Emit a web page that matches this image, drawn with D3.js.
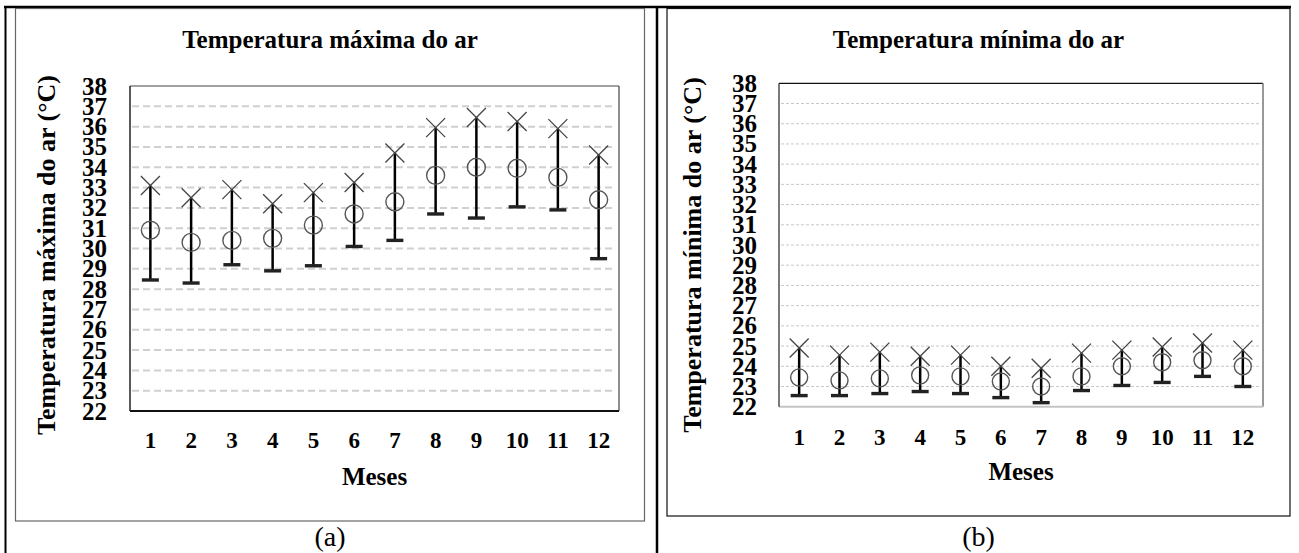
<!DOCTYPE html>
<html>
<head>
<meta charset="utf-8">
<script src="https://cdn.jsdelivr.net/npm/d3@7"></script>
<style>
  body { margin: 0; background: #fff; }
  svg { display: block; }
  text { font-family: "Liberation Serif", "Times New Roman", serif; }
</style>
</head>
<body>
<div id="chart"></div>
<script>
// months on the x axis
const months = ["1", "2", "3", "4", "5", "6", "7", "8", "9", "10", "11", "12"];
const yTicks = [22, 23, 24, 25, 26, 27, 28, 29, 30, 31, 32, 33, 34, 35, 36, 37, 38];

// (a) temperatura maxima: max (X), media (o), min (bar)
const tmaxTop = [33.1, 32.5, 32.9, 32.2, 32.75, 33.25, 34.7, 35.95, 36.45, 36.25, 35.9, 34.6];
const tmaxMid = [30.9, 30.3, 30.4, 30.5, 31.15, 31.7, 32.3, 33.6, 34.0, 33.95, 33.5, 32.4];
const tmaxLow = [28.45, 28.3, 29.2, 28.9, 29.15, 30.1, 30.4, 31.7, 31.5, 32.05, 31.9, 29.5];

// (b) temperatura minima
const tminTop = [24.9, 24.55, 24.7, 24.5, 24.55, 24.0, 23.9, 24.65, 24.8, 24.95, 25.15, 24.8];
const tminMid = [23.45, 23.3, 23.4, 23.55, 23.5, 23.25, 23.0, 23.5, 24.0, 24.2, 24.3, 24.0];
const tminLow = [22.55, 22.55, 22.65, 22.75, 22.65, 22.45, 22.2, 22.8, 23.05, 23.2, 23.5, 23.0];

const width = 1299, height = 553;

const svg = d3.select("#chart")
    .append("svg")
    .attr("width", width)
    .attr("height", height);

// table borders
svg.append("line").attr("x1", 4).attr("x2", 1291).attr("y1", 7).attr("y2", 7)
    .attr("stroke", "#000").attr("stroke-width", 2.5);
svg.append("line").attr("x1", 5.5).attr("x2", 5.5).attr("y1", 6).attr("y2", height)
    .attr("stroke", "#000").attr("stroke-width", 2);
svg.append("line").attr("x1", 657).attr("x2", 657).attr("y1", 6).attr("y2", height)
    .attr("stroke", "#000").attr("stroke-width", 2.5);

function drawPanel(cfg) {
    const p = cfg.plot;

    // outer chart frame
    svg.append("rect")
        .attr("x", cfg.frame[0]).attr("y", cfg.frame[1])
        .attr("width", cfg.frame[2] - cfg.frame[0])
        .attr("height", cfg.frame[3] - cfg.frame[1])
        .attr("fill", "none")
        .attr("stroke", cfg.frameColor)
        .attr("stroke-width", 1.2);

    const x = d3.scaleBand().domain(months).range([p.left, p.right]);
    const y = d3.scaleLinear().domain([22, 38]).range([p.bottom, p.top]);

    // gridlines
    svg.append("g")
        .selectAll("line")
        .data(yTicks.filter(d => d > 22 && d < 38))
        .enter()
        .append("line")
        .attr("x1", p.left + 2)
        .attr("x2", p.right - 3)
        .attr("y1", d => y(d))
        .attr("y2", d => y(d))
        .attr("stroke", cfg.gridColor)
        .attr("stroke-width", cfg.gridWidth)
        .attr("stroke-dasharray", cfg.gridDash);

    // plot area border
    const b = svg.append("g");
    b.append("line").attr("x1", p.left).attr("x2", p.right).attr("y1", p.top).attr("y2", p.top)
        .attr("stroke", cfg.border.top[0]).attr("stroke-width", cfg.border.top[1]);
    b.append("line").attr("x1", p.right).attr("x2", p.right).attr("y1", p.top).attr("y2", p.bottom)
        .attr("stroke", cfg.border.right[0]).attr("stroke-width", cfg.border.right[1]);
    b.append("line").attr("x1", p.left).attr("x2", p.right).attr("y1", p.bottom).attr("y2", p.bottom)
        .attr("stroke", cfg.border.bottom[0]).attr("stroke-width", cfg.border.bottom[1]);
    b.append("line").attr("x1", p.left).attr("x2", p.left).attr("y1", p.top).attr("y2", p.bottom)
        .attr("stroke", cfg.border.left[0]).attr("stroke-width", cfg.border.left[1]);

    // axes (labels only)
    const yAxis = svg.append("g")
        .attr("transform", `translate(${p.left},0)`)
        .call(d3.axisLeft(y).tickValues(yTicks).tickSize(0).tickPadding(cfg.yPad));
    yAxis.select(".domain").remove();
    yAxis.selectAll("text")
        .style("font-family", "'Liberation Serif', serif")
        .style("font-size", "25px")
        .style("font-weight", "bold")
        .attr("fill", "#000");

    const xAxis = svg.append("g")
        .attr("transform", `translate(0,${p.bottom})`)
        .call(d3.axisBottom(x).tickSize(0).tickPadding(cfg.xPad));
    xAxis.select(".domain").remove();
    xAxis.selectAll("text")
        .style("font-family", "'Liberation Serif', serif")
        .style("font-size", "23px")
        .style("font-weight", "bold")
        .attr("fill", "#000");

    // titles
    svg.append("text")
        .attr("x", (cfg.frame[0] + cfg.frame[2]) / 2)
        .attr("y", 48)
        .attr("text-anchor", "middle")
        .style("font-size", "25px")
        .style("font-weight", "bold")
        .text(cfg.title);

    svg.append("text")
        .attr("transform", `translate(${cfg.yTitleX},${cfg.yTitleY}) rotate(-90)`)
        .attr("text-anchor", "middle")
        .style("font-size", "26px")
        .style("font-weight", "bold")
        .text(cfg.yTitle);

    svg.append("text")
        .attr("x", (p.left + p.right) / 2)
        .attr("y", cfg.xTitleY)
        .attr("text-anchor", "middle")
        .style("font-size", "25px")
        .style("font-weight", "bold")
        .text("Meses");

    svg.append("text")
        .attr("x", (cfg.frame[0] + cfg.frame[2]) / 2)
        .attr("y", 546)
        .attr("text-anchor", "middle")
        .style("font-size", "28px")
        .text(cfg.letter);

    // markers
    const rows = months.map((m, i) => ({ m, top: cfg.top[i], mid: cfg.mid[i], low: cfg.low[i] }));
    const cx = d => x(d.m) + x.bandwidth() / 2;

    const g = svg.append("g");
    g.selectAll(".whisker")
        .data(rows)
        .enter()
        .append("line")
        .attr("x1", cx).attr("x2", cx)
        .attr("y1", d => y(d.low)).attr("y2", d => y(d.top))
        .attr("stroke", "#000")
        .attr("stroke-width", 2.5);

    g.selectAll(".cap")
        .data(rows)
        .enter()
        .append("rect")
        .attr("x", d => cx(d) - 8.5)
        .attr("y", d => y(d.low) - 1.7)
        .attr("width", 17)
        .attr("height", 3.4)
        .attr("fill", "#222");

    g.selectAll(".mean")
        .data(rows)
        .enter()
        .append("circle")
        .attr("cx", cx)
        .attr("cy", d => y(d.mid))
        .attr("r", cfg.r)
        .attr("fill", "none")
        .attr("stroke", "#555")
        .attr("stroke-width", 1.4);

    const s = 9.5;
    g.selectAll(".max")
        .data(rows)
        .enter()
        .append("path")
        .attr("d", d => {
            const px = cx(d), py = y(d.top);
            return `M${px - s},${py - s}L${px + s},${py + s}M${px - s},${py + s}L${px + s},${py - s}`;
        })
        .attr("fill", "none")
        .attr("stroke", "#444")
        .attr("stroke-width", 1.3);
}

drawPanel({
    frame: [15.5, 8.5, 644.5, 521],
    frameColor: "#666",
    plot: { left: 130, right: 619, top: 86, bottom: 411 },
    border: { top: ["#444", 1], right: ["#444", 1.2], bottom: ["#111", 2], left: ["#222", 1.5] },
    gridColor: "#d0d0d0", gridWidth: 2, gridDash: "7,4",
    yPad: 23, xPad: 21,
    title: "Temperatura máxima do ar",
    yTitle: "Temperatura máxima do ar (°C)",
    yTitleX: 55, yTitleY: 255,
    xTitleY: 485,
    letter: "(a)",
    r: 9,
    top: tmaxTop, mid: tmaxMid, low: tmaxLow
});

drawPanel({
    frame: [667, 8.5, 1290, 516],
    frameColor: "#111",
    plot: { left: 779, right: 1263, top: 83.3, bottom: 406.7 },
    border: { top: ["#111", 1.2], right: ["#777", 1.5], bottom: ["#c4c4c4", 2], left: ["#222", 1.2] },
    gridColor: "#c8c8c8", gridWidth: 1, gridDash: "3,2",
    yPad: 22, xPad: 22,
    title: "Temperatura mínima do ar",
    yTitle: "Temperatura mínima do ar (°C)",
    yTitleX: 701, yTitleY: 255,
    xTitleY: 480,
    letter: "(b)",
    r: 8.5,
    top: tminTop, mid: tminMid, low: tminLow
});
</script>
</body>
</html>
